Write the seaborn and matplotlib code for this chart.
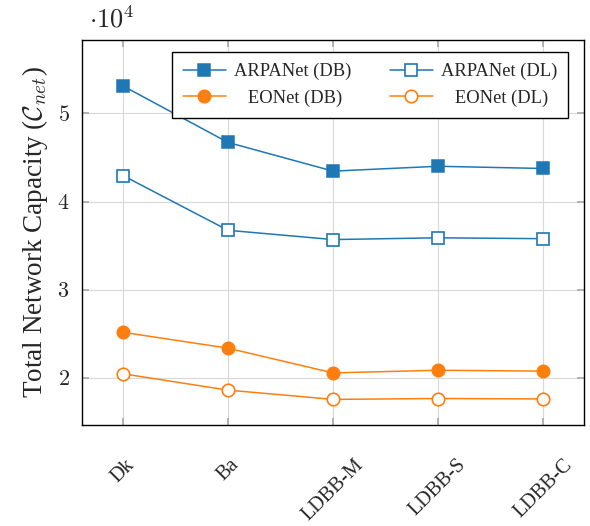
import matplotlib
matplotlib.use("Agg")
import matplotlib.pyplot as plt
import seaborn as sns
import pandas as pd
import numpy as np

categories = ["Dk", "Ba", "LDBB-M", "LDBB-S", "LDBB-C"]
arpanet_db = [53100, 46700, 43450, 44000, 43750]
arpanet_dl = [42950, 36750, 35700, 35900, 35800]
eonet_db = [25200, 23400, 20600, 20900, 20800]
eonet_dl = [20500, 18650, 17600, 17700, 17650]
y_ticks = [20000, 30000, 40000, 50000]

sns.set_theme(style="ticks")
plt.rcParams["font.family"] = ["Liberation Serif", "DejaVu Serif"]
plt.rcParams["mathtext.fontset"] = "cm"

blue = "#1f77b4"
orange = "#ff7f0e"

series = [
    ("ARPANet (DB)", arpanet_db, blue, "s", True),
    ("ARPANet (DL)", arpanet_dl, blue, "s", False),
    ("   EONet (DB)", eonet_db, orange, "o", True),
    ("   EONet (DL)", eonet_dl, orange, "o", False),
]

fig = plt.figure(figsize=(5.9, 5.26), dpi=100)
ax = fig.add_axes([82 / 590, 1 - 425 / 526, (584 - 82) / 590, (425 - 40) / 526])

x_idx = np.arange(len(categories))
for name, vals, col, mk, filled in series:
    df = pd.DataFrame({"x": x_idx, "y": vals})
    sns.lineplot(data=df, x="x", y="y", ax=ax, color=col, marker=mk,
                 markersize=8.5 if mk == "s" else 9,
                 markerfacecolor=col if filled else "white",
                 markeredgecolor=col, markeredgewidth=1.1 if filled else 1.2,
                 linewidth=1.1, label=name)

ax.set_xlim(-0.39, 4.39)
ax.set_ylim(14700, 58300)
ax.set_xticks(x_idx)
ax.set_xticklabels(categories, rotation=45, ha="center", va="top", fontsize=14.6)
ax.set_yticks(y_ticks)
ax.set_yticklabels([f"${v // 10000}$" for v in y_ticks], fontsize=16)
ax.grid(True, color="#d8d8d8", linewidth=0.8)
ax.set_axisbelow(True)
ax.tick_params(axis="both", direction="in", length=5, color="#aaaaaa",
               top=True, right=True)
ax.tick_params(axis="x", pad=22)
ax.tick_params(axis="y", pad=9)
for s in ax.spines.values():
    s.set_color("black")
    s.set_linewidth(1.0)
ax.set_xlabel("")
ax.set_ylabel(r"Total Network Capacity ($\mathcal{C}_{net}$)", fontsize=19.5, labelpad=5)

fig.text(89 / 590, 1 - 19 / 526, r"$\cdot 10^4$", fontsize=19, va="center", ha="left")

handles, labels = ax.get_legend_handles_labels()
order = [0, 2, 1, 3]
leg = ax.legend([handles[i] for i in order], [labels[i] for i in order],
                ncol=2, loc="upper left",
                bbox_to_anchor=((172 - 82) / 502, 1 - (52 - 40) / 385),
                frameon=True, fancybox=False, edgecolor="black", fontsize=13.3,
                handlelength=2.3, columnspacing=2.1, borderpad=0.6, labelspacing=0.48,
                handletextpad=0.45, borderaxespad=0)
leg.get_frame().set_linewidth(1.0)
leg.get_frame().set_alpha(1)

fig.savefig("out.png", dpi=100)
